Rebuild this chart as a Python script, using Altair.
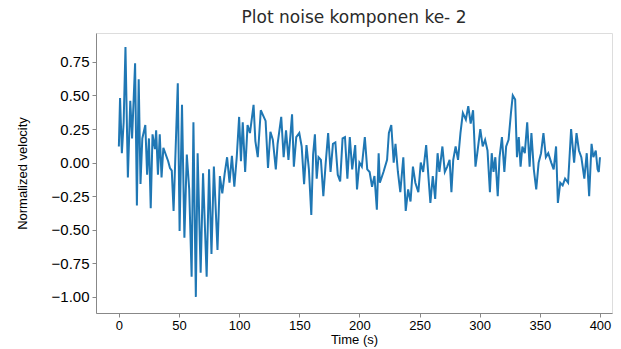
import altair as alt
import pandas as pd

time_s = [0, 1, 2.5, 4, 5.5, 7.5, 9.5, 11, 13.5, 15, 16.5, 18, 19.5, 22, 23.5, 25, 26.5, 28, 30, 31,
          32.5, 34, 35.5, 37, 39, 41, 42.5, 44, 45.5, 49, 50.5, 52.5, 54.5, 56.5, 58.5, 60.5, 62, 64, 65.5, 68,
          70, 73, 75, 77, 79, 82, 84, 86, 88, 90, 92, 94, 96, 98, 100, 101.5, 103, 105, 107, 109,
          112, 113.5, 115.5, 118, 120, 122, 124, 126, 128, 130.5, 132, 135, 137, 139, 141, 144, 145.5, 147.5, 150, 152,
          154, 156, 158, 160, 161.5, 163, 164.5, 166, 168, 170, 172, 174, 176, 178, 180, 182, 184, 186, 188, 190,
          192, 194, 196.5, 198, 200, 202, 204.5, 206.5, 208.5, 210.5, 212.5, 214.5, 216, 217, 220, 223, 224.5, 226.5, 228.5, 230,
          232, 234, 236.5, 238.5, 240.5, 242.5, 244.5, 246.5, 249, 251, 253, 255.5, 257.5, 259, 261, 263, 265, 266.5, 269, 271,
          273, 275, 276.5, 278, 280, 282, 284, 286, 288.5, 290.5, 292.5, 294.5, 296.5, 298, 300.5, 302.5, 304.5, 306.5, 308.5, 310,
          311.5, 313, 315, 316.5, 318.5, 320.5, 322, 324, 326, 327.5, 329.5, 331, 332.5, 334, 335.5, 337.5, 339.5, 341.5, 343, 345,
          347, 349, 351, 353, 355, 357, 359.5, 361.5, 363.5, 365, 367, 369, 371, 373.5, 376, 378.5, 380.5, 382.5, 384.5, 387,
          389, 391, 393, 394.5, 396.5, 398, 399, 400]

velocity = [0.12, 0.48, 0.07, 0.30, 0.86, -0.11, 0.46, 0.18, 0.74, -0.32, 0.62, -0.16, 0.18, 0.28, -0.09, 0.18, -0.34, 0.21, 0.10, 0.24,
            -0.09, 0.21, -0.11, 0.11, 0.06, 0.01, -0.04, -0.06, -0.36, 0.59, -0.51, 0.43, -0.56, 0.06, -0.20, -0.85, 0.30, -1.00, 0.07, -0.82,
            -0.08, -0.85, -0.05, -0.68, -0.03, -0.65, -0.10, -0.23, -0.08, 0.04, -0.15, 0.05, -0.18, 0.04, 0.34, 0.01, 0.30, -0.07, 0.28, 0.22,
            0.43, 0.16, 0.04, 0.39, 0.35, 0.31, -0.04, 0.23, 0.17, -0.05, 0.14, 0.34, 0.04, 0.24, 0.02, 0.36, -0.03, 0.19, 0.22, 0.12,
            -0.16, 0.13, -0.05, -0.39, 0.06, 0.21, -0.12, 0.04, 0.02, -0.25, 0.00, 0.22, -0.07, 0.14, 0.15, -0.09, -0.14, 0.18, 0.19, -0.12,
            0.19, -0.05, 0.13, -0.20, 0.00, -0.03, 0.19, -0.05, -0.07, -0.18, -0.10, -0.35, 0.07, -0.15, -0.07, 0.02, 0.22, 0.28, 0.00, 0.14,
            -0.07, -0.22, 0.04, -0.36, -0.20, -0.29, -0.03, -0.15, -0.22, 0.00, -0.07, 0.13, -0.12, -0.30, -0.10, -0.27, 0.07, -0.07, 0.12, -0.07,
            -0.03, 0.02, -0.22, 0.02, 0.12, 0.02, 0.22, 0.37, 0.32, 0.42, 0.29, 0.39, -0.03, 0.07, 0.25, 0.12, 0.17, 0.09, -0.22, 0.07,
            -0.07, 0.04, -0.25, 0.04, 0.19, -0.07, 0.12, 0.17, 0.37, 0.50, 0.47, 0.04, 0.19, -0.03, 0.12, 0.07, 0.30, -0.03, 0.22, -0.05,
            -0.20, 0.00, 0.07, 0.22, 0.04, 0.07, 0.00, -0.05, 0.12, -0.30, -0.15, -0.17, -0.12, -0.15, 0.25, 0.00, 0.22, 0.09, 0.04, -0.12,
            0.07, -0.25, 0.14, 0.04, 0.09, -0.05, -0.07, 0.04]

x_ticks = [0, 50, 100, 150, 200, 250, 300, 350, 400]
y_ticks = [-1.00, -0.75, -0.50, -0.25, 0.00, 0.25, 0.50, 0.75]

df = pd.DataFrame({"t": time_s, "v": velocity})

FONT = "DejaVu Sans"
TXT = "#2a2a2a"

chart = alt.Chart(df).mark_line(color="#1f77b4", strokeWidth=2).encode(
    x=alt.X("t:Q",
            scale=alt.Scale(domain=[-19, 410], nice=False, zero=False),
            axis=alt.Axis(values=x_ticks, title="Time (s)", grid=False, format="d",
                          tickSize=4, labelPadding=2, titlePadding=1,
                          titleFontWeight="normal", labelFontSize=13, titleFontSize=13)),
    y=alt.Y("v:Q",
            scale=alt.Scale(domain=[-1.12, 0.965], nice=False, zero=False),
            axis=alt.Axis(values=y_ticks, title="Normalized velocity", grid=False, format=".2f",
                          tickSize=4, labelPadding=3, titlePadding=22,
                          titleFontWeight="normal", labelFontSize=15, titleFontSize=13)),
).properties(
    width=516, height=280,
    title=alt.TitleParams("Plot noise komponen ke- 2", font=FONT, fontSize=17,
                          fontWeight="normal", color=TXT, offset=6),
    autosize=alt.AutoSizeParams(type="none"),
    padding={"left": 96, "top": 33, "right": 9, "bottom": 36},
).configure_view(
    stroke="#333333", strokeWidth=1
).configure_axis(
    labelFont=FONT, titleFont=FONT,
    labelColor=TXT, titleColor=TXT, tickColor="#333333",
    domainColor="#333333"
).configure(background="white")

chart.save("out.html", embed_options={"renderer": "svg", "actions": False})
